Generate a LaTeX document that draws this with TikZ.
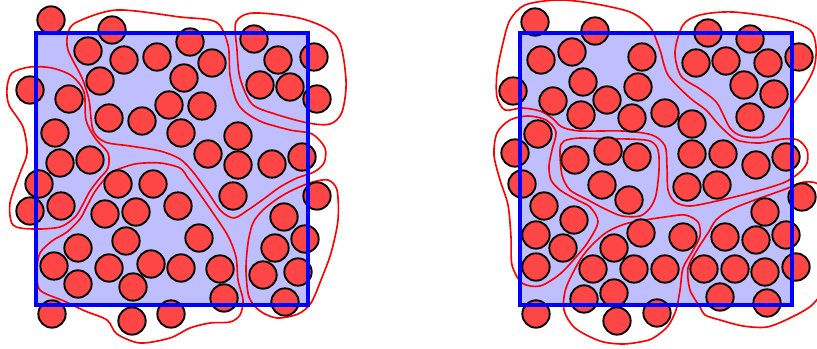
\documentclass[tikz,border=0pt]{standalone}
\usepackage{tikz}
\usetikzlibrary{positioning}
\definecolor{particlered}{RGB}{255,70,70}
\tikzset{
    % Particle styles
    particle/.style={draw=black, fill=particlered, line width=1.6pt},
    % Cluster outline styles
    cluster/.style={draw=red, line width=1.4pt},
    % Domain styles
    domain fill/.style={fill=blue!25},
    domain frame/.style={draw=blue, line width=3.3pt},
}
\newcommand{\prad}{0.41cm}

\begin{document}
\begin{tikzpicture}[x=0.03cm, y=-0.03cm]
    \useasboundingbox (0,0) rectangle (817,349);

    % Domains
    \fill[domain fill] (36,33) rectangle (308,305);
    \fill[domain fill] (520,33) rectangle (792,305);

    % Left clusters
    \draw[cluster] plot[smooth cycle] coordinates {(236,22) (254,13) (303,19) (337,37) (346,80) (342,112) (330,124) (308,123) (275,114) (252,104) (240,78) (237,50)};
    \draw[cluster] plot[smooth cycle] coordinates {(77,22) (117,10) (180,17) (216,22) (228,45) (230,75) (236,100) (245,112) (262,122) (290,130) (312,134) (325,148) (324,163) (314,172) (297,178) (280,187) (265,198) (248,210) (234,218) (221,211) (207,191) (193,172) (180,159) (160,151) (130,146) (105,142) (93,130) (89,100) (82,78) (68,50) (68,33)};
    \draw[cluster] plot[smooth cycle] coordinates {(7,88) (12,73) (30,67) (52,68) (72,76) (84,92) (86,120) (95,138) (108,153) (108,168) (100,178) (90,191) (82,206) (75,217) (60,227) (33,229) (13,225) (10,203) (20,173) (27,153) (23,127) (9,105)};
    \draw[cluster] plot[smooth cycle] coordinates {(112,172) (135,164) (160,163) (180,168) (188,178) (197,190) (213,213) (228,236) (236,257) (238,280) (243,300) (240,315) (230,322) (210,323) (190,328) (170,338) (140,343) (117,334) (107,320) (85,311) (64,301) (40,290) (37,270) (40,253) (52,241) (67,232) (80,219) (86,208) (94,193) (103,181)};
    \draw[cluster] plot[smooth cycle] coordinates {(297,188) (313,182) (328,180) (337,190) (338,220) (331,253) (321,280) (311,303) (298,314) (277,318) (260,311) (249,297) (246,270) (248,243) (253,223) (263,210) (280,197)};

    % Right clusters
    \draw[cluster] plot[smooth cycle] coordinates {(525,5) (557,0) (590,3) (630,12) (650,27) (660,50) (668,75) (690,98) (706,110) (720,126) (737,140) (760,143) (783,139) (798,140) (807,150) (807,163) (799,173) (783,183) (750,193) (717,201) (690,206) (675,202) (668,190) (667,167) (665,146) (652,135) (623,131) (580,131) (562,127) (552,118) (540,111) (522,108) (505,110) (497,97) (497,73) (503,43) (510,20)};
    \draw[cluster] plot[smooth cycle] coordinates {(683,25) (700,15) (733,12) (783,19) (810,30) (816,47) (814,68) (804,88) (790,108) (778,127) (762,137) (742,136) (730,128) (717,103) (700,89) (681,76) (675,52)};
    \draw[cluster] plot[smooth cycle] coordinates {(560,150) (564,141) (580,138) (605,139) (628,139) (650,141) (658,150) (659,170) (656,195) (650,208) (640,216) (622,216) (605,209) (588,200) (570,190) (562,175)};
    \draw[cluster] plot[smooth cycle] coordinates {(497,133) (510,120) (528,116) (546,120) (556,132) (552,150) (549,166) (551,180) (560,190) (575,199) (590,207) (598,222) (588,242) (576,257) (560,274) (540,286) (522,283) (512,265) (511,237) (508,205) (500,180) (494,155)};
    \draw[cluster] plot[smooth cycle] coordinates {(566,288) (580,260) (592,245) (607,232) (625,224) (645,220) (665,217) (685,215) (698,222) (700,236) (692,252) (683,268) (680,290) (676,310) (668,326) (655,337) (645,341) (623,344) (600,341) (575,328) (564,310)};
    \draw[cluster] plot[smooth cycle] coordinates {(700,307) (690,290) (688,268) (697,250) (708,233) (716,220) (730,210) (752,201) (783,190) (805,182) (822,188) (828,230) (824,285) (812,305) (790,318) (767,327) (743,326) (720,320) (705,315)};

    % Left particles
    \foreach \x/\y in {51/20, 112/30, 88/51, 124/60, 157/57, 190/42, 212/63, 184/78, 100/81, 30/90,
        69/99, 169/105, 202/106, 109/118, 142/121, 181/133, 55/133, 238/136, 208/154, 238/165,
        272/164, 302/157, 60/163, 90/160, 39/184, 30/211, 61/206, 118/184, 153/184, 178/206,
        105/214, 136/212, 233/196, 317/196, 284/217, 78/248, 126/241, 199/238, 305/239, 275/248,
        54/266, 109/268, 151/264, 181/268, 220/269, 78/284, 133/287, 298/272, 263/275, 224/298,
        285/302, 52/314, 132/321, 171/314, 254/39, 278/60, 314/57, 260/85, 290/87, 317/99}
        \draw[particle] (\x,\y) circle[radius=\prad];

    % Right particles
    \foreach \x/\y in {535/22, 595/31, 541/60, 572/52, 642/57, 583/82, 513/91, 553/101, 607/100, 638/87,
        581/115, 632/118, 665/113, 692/124, 708/33, 750/39, 696/63, 726/61, 768/63, 799/57,
        744/85, 774/94, 750/117, 692/154, 723/154, 756/165, 786/157, 687/187, 717/185, 802/197,
        765/212, 683/237, 725/237, 756/240, 786/235, 538/134, 515/153, 575/160, 608/151, 637/157,
        602/185, 629/200, 522/184, 544/206, 574/220, 536/235, 563/248, 536/267, 641/233, 614/248,
        593/269, 634/269, 584/299, 614/293, 536/314, 617/321, 657/313, 665/269, 704/269, 735/269,
        765/272, 796/267, 720/297, 767/303}
        \draw[particle] (\x,\y) circle[radius=\prad];

    % Domain frames
    \draw[domain frame] (36,33) rectangle (308,305);
    \draw[domain frame] (520,33) rectangle (792,305);
\end{tikzpicture}
\end{document}
